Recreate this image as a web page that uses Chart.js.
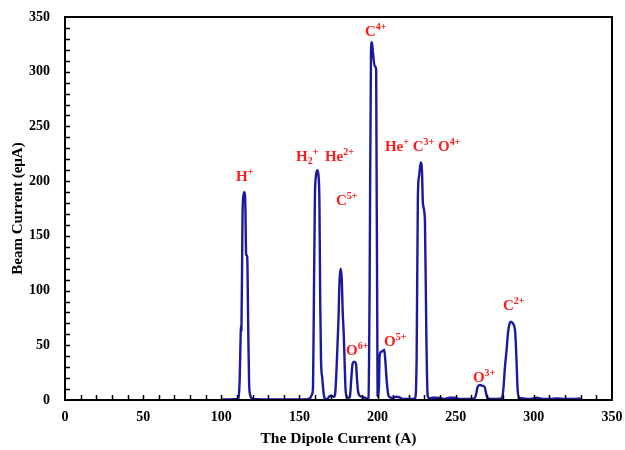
<!DOCTYPE html>
<html>
<head>
<meta charset="utf-8">
<script src="https://cdn.jsdelivr.net/npm/chart.js@4.4.1/dist/chart.umd.min.js"></script>
<style>
  html, body { margin: 0; padding: 0; background: #fff; }
  #wrap { width: 625px; height: 450px; }
</style>
</head>
<body>
<div id="wrap"><canvas id="spectrum" width="625" height="450"></canvas></div>
<script>
// Dipole current scan (A) and measured beam current (euA)
const dipoleCurrent = [
  100, 105, 110, 111, 111.8, 112.4, 112.6, 112.9, 113.6, 114.2, 114.8, 115.4, 115.9, 116.6, 117.2, 117.8, 118.6, 119.5,
  122, 130, 140, 150, 155, 157, 158, 158.7, 159.3, 159.9, 160.6, 161.4, 162.2, 162.8, 163.3, 163.8, 164.6, 165.6, 166.5,
  168, 169, 170.5, 172, 172.8, 173.8, 174.9, 175.7, 176.4, 177.1, 177.7, 178.3, 178.8, 179.5, 180.3, 181.5,
  182.3, 183.2, 184, 185.1, 186.2, 186.8, 187.5, 188.5, 190, 192, 193.5, 194.2, 194.9, 195.8, 196.4, 197, 198.2, 199.1, 200,
  200.7, 201.3, 202.2, 203.5, 204.3, 205, 206, 207, 208.5, 210, 212, 214, 216, 220, 224,
  225, 225.8, 226.6, 227.6, 228.4, 229, 230.3, 231.2, 232, 233, 235, 238, 241, 243, 246, 249, 252, 258,
  262, 263, 264, 265.5, 267, 268.5, 269.3, 270.2, 272, 276, 279.5, 280.5, 281.5, 282.5, 283.5, 284.5, 285.3, 286.5,
  288, 288.8, 289.6, 290.7, 293, 296, 300, 302, 306, 310, 315, 320, 325, 330
];
const beamCurrent = [
  0.5, 0.5, 0.8, 1, 20, 60, 68, 64, 170, 187, 190, 178, 133, 131, 70, 15, 4, 1.5,
  0.8, 0.5, 0.5, 0.5, 0.8, 2, 5, 12, 100, 185, 205, 210, 205, 180, 90, 37, 20, 5, 1,
  1, 3, 4, 3, 5, 30, 70, 110, 120, 110, 80, 62, 40, 10, 3, 2,
  3, 20, 33, 35, 33, 20, 8, 4, 3, 2, 1, 2, 100, 320, 327, 318, 305, 302, 4,
  3, 40, 44, 45, 46, 35, 15, 4, 2, 2, 3, 2.5, 1, 1, 1.5,
  40, 187, 205, 217, 210, 180, 164, 60, 5, 1.5, 2, 2, 1.5, 1, 2, 2, 1, 1,
  1.5, 5, 12, 13.7, 13, 12, 7, 2, 1, 1, 1.5, 10, 30, 45, 62, 70, 71.6, 70,
  63, 40, 10, 2, 1.5, 1, 1.5, 2, 1, 1, 1.5, 1, 1, 1.5
];

// Peak labels: [x (A), y (euA) of text baseline-left, parts]
const peakLabels = [
  [109.4, 200, [['H', 'n'], ['+', 'sup']]],
  [147.8, 218, [['H', 'n'], ['2', 'sub'], ['+', 'sup']]],
  [166.3, 218, [['He', 'n'], ['2+', 'sup']]],
  [191.9, 333, [['C', 'n'], ['4+', 'sup']]],
  [204.7, 228, [['He', 'n'], ['+', 'sup'], [' C', 'n'], ['3+', 'sup'], [' O', 'n'], ['4+', 'sup']]],
  [173.4, 178, [['C', 'n'], ['5+', 'sup']]],
  [179.8, 41, [['O', 'n'], ['6+', 'sup']]],
  [204.1, 49, [['O', 'n'], ['5+', 'sup']]],
  [261.0, 16, [['O', 'n'], ['3+', 'sup']]],
  [280.2, 82, [['C', 'n'], ['2+', 'sup']]]
];

const serif = '"Liberation Serif", "Times New Roman", serif';

const frameAndLabels = {
  id: 'frameAndLabels',
  afterDraw(chart) {
    const { ctx, chartArea: a, scales } = chart;
    ctx.save();
    // inward minor ticks every 10 units
    ctx.strokeStyle = '#000';
    ctx.lineWidth = 1.5;
    ctx.beginPath();
    for (let v = 10; v < 350; v += 10) {
      const px = Math.round(scales.x.getPixelForValue(v)) + 0.5;
      ctx.moveTo(px, a.bottom);
      ctx.lineTo(px, a.bottom - 5);
      const py = Math.round(scales.y.getPixelForValue(v)) + 0.5;
      ctx.moveTo(a.left, py);
      ctx.lineTo(a.left + 5, py);
    }
    ctx.stroke();
    // frame
    ctx.lineWidth = 2;
    ctx.strokeRect(a.left, a.top, a.right - a.left, a.bottom - a.top);

    // labels
    ctx.fillStyle = '#ff1a1a';
    ctx.textBaseline = 'alphabetic';
    ctx.textAlign = 'left';
    peakLabels.forEach(([lx, ly, parts]) => {
      let x = scales.x.getPixelForValue(lx);
      const y = scales.y.getPixelForValue(ly);
      parts.forEach(([t, kind]) => {
        let dy = 0;
        if (kind === 'n') {
          ctx.font = 'bold 15px ' + serif;
        } else {
          ctx.font = 'bold 10px ' + serif;
          dy = kind === 'sup' ? -6 : 3;
        }
        ctx.fillText(t, x, y + dy);
        x += ctx.measureText(t).width;
      });
    });
    ctx.restore();
  }
};

new Chart(document.getElementById('spectrum'), {
  type: 'line',
  data: {
    datasets: [{
      data: dipoleCurrent.map((d, i) => ({ x: d, y: beamCurrent[i] })),
      borderColor: '#1a1a9e',
      borderWidth: 2.4,
      pointRadius: 0,
      cubicInterpolationMode: 'monotone',
      fill: false
    }]
  },
  options: {
    responsive: false,
    animation: false,
    layout: { padding: { left: 0, right: 13, top: 17, bottom: 0 } },
    plugins: {
      legend: { display: false },
      tooltip: { enabled: false }
    },
    scales: {
      x: {
        type: 'linear',
        min: 0,
        max: 350,
        afterFit: (s) => { s.height = 50; s.paddingLeft = 0; s.paddingRight = 0; },
        grid: { display: false, drawTicks: false },
        border: { display: false },
        ticks: {
          stepSize: 50,
          padding: 9,
          color: '#000',
          font: { family: serif, size: 14, weight: 'bold' }
        },
        title: {
          display: true,
          text: 'The Dipole Current (A)',
          color: '#000',
          padding: { top: 0, bottom: 2 },
          font: { family: serif, size: 15.5, weight: 'bold' }
        }
      },
      y: {
        min: 0,
        max: 350,
        afterFit: (s) => { s.width = 65; s.paddingTop = 0; s.paddingBottom = 0; },
        grid: { display: false, drawTicks: false },
        border: { display: false },
        ticks: {
          stepSize: 50,
          padding: 15,
          color: '#000',
          font: { family: serif, size: 14, weight: 'bold' }
        },
        title: {
          display: true,
          text: 'Beam Current (eμA)',
          color: '#000',
          padding: { top: 9, bottom: 0 },
          font: { family: serif, size: 15, weight: 'bold' }
        }
      }
    }
  },
  plugins: [frameAndLabels]
});
</script>
</body>
</html>
